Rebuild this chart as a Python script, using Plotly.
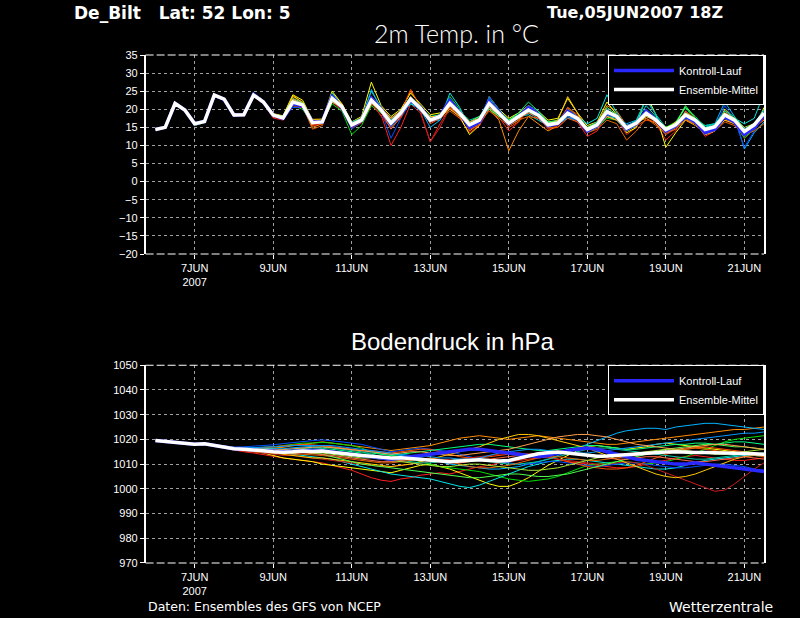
import pandas as pd
import plotly.graph_objects as go

# GFS ensemble run 05JUN2007 18Z, values every 6 hours from 06JUN 00Z
times = pd.date_range("2007-06-06 00:00", periods=63, freq="6h")

tick_days = ["2007-06-07", "2007-06-09", "2007-06-11", "2007-06-13",
             "2007-06-15", "2007-06-17", "2007-06-19", "2007-06-21"]
tick_labels = ["7JUN<br>2007", "9JUN", "11JUN", "13JUN", "15JUN", "17JUN", "19JUN", "21JUN"]

# ---- 2m temperature (C) ----
temp_mean = [14.4, 15.0, 21.6, 19.8, 16.0, 16.6, 23.9, 22.8, 18.4, 18.5, 23.9, 22.0,
             18.4, 17.6, 22.0, 21.2, 16.3, 16.5, 23.0, 20.7, 15.7, 17.0, 22.5, 19.8,
             16.2, 19.0, 22.8, 20.3, 17.0, 18.0, 21.6, 18.9, 15.7, 17.0, 21.6, 18.9,
             16.2, 18.0, 19.8, 18.4, 15.7, 16.2, 18.9, 17.5, 14.4, 15.7, 19.3, 18.0,
             14.8, 16.2, 18.9, 17.0, 14.4, 15.7, 18.4, 17.0, 14.4, 15.2, 18.4, 17.0,
             13.9, 15.7, 18.9]
temp_control = [14.4, 15.0, 21.6, 19.8, 16.0, 16.6, 23.9, 22.7, 18.4, 18.5, 24.1, 22.0,
                18.4, 17.5, 21.5, 21.0, 16.5, 16.5, 23.5, 20.5, 15.5, 17.0, 23.0, 20.0,
                16.0, 19.0, 22.5, 20.5, 17.0, 18.0, 22.5, 19.0, 15.0, 16.5, 22.0, 19.0,
                16.0, 18.0, 20.5, 18.5, 15.5, 16.0, 19.5, 17.5, 14.0, 15.5, 19.0, 18.0,
                14.5, 16.0, 19.5, 17.0, 14.0, 15.5, 18.0, 16.5, 13.5, 14.5, 18.0, 16.5,
                13.0, 15.0, 18.5]
temp_m01 = [14.2, 14.9, 21.5, 19.7, 15.8, 16.5, 23.7, 22.6, 18.0, 18.2, 23.5, 21.5,
            17.6, 17.0, 21.4, 20.8, 15.5, 15.9, 22.0, 19.8, 14.8, 16.2, 21.0, 18.5,
            10.0, 15.0, 21.5, 19.0, 11.0, 16.0, 20.5, 17.5, 13.5, 15.5, 20.0, 17.8,
            14.0, 16.5, 21.0, 19.0, 14.5, 15.0, 18.0, 16.5, 12.5, 14.0, 18.5, 17.5,
            13.0, 15.0, 20.0, 16.0, 11.5, 14.0, 19.0, 16.5, 12.5, 14.0, 17.0, 16.0,
            12.0, 14.5, 17.5]
temp_m02 = [14.5, 15.1, 21.7, 19.9, 16.1, 16.7, 24.0, 22.9, 18.6, 18.6, 24.3, 22.3,
            18.0, 17.2, 23.5, 22.0, 15.0, 16.0, 24.5, 21.5, 15.0, 17.5, 23.5, 20.5,
            17.0, 19.5, 25.0, 21.0, 16.5, 17.5, 22.5, 19.5, 14.0, 16.0, 20.0, 17.0,
            8.5, 14.0, 18.0, 16.0, 14.0, 15.5, 20.5, 18.0, 15.0, 16.0, 21.0, 19.5,
            15.5, 16.5, 17.5, 16.0, 13.0, 15.0, 17.0, 15.5, 13.5, 14.5, 19.5, 17.5,
            14.0, 15.0, 17.0]
temp_m03 = [14.4, 15.0, 21.6, 19.8, 16.0, 16.7, 24.1, 23.0, 18.7, 18.8, 24.4, 22.5,
            18.8, 18.2, 24.0, 22.5, 17.0, 17.0, 25.0, 21.5, 16.5, 18.0, 27.5, 21.0,
            18.0, 20.0, 24.5, 21.5, 18.5, 19.0, 20.5, 18.0, 13.0, 15.5, 23.5, 20.0,
            17.5, 19.0, 21.0, 19.5, 17.0, 17.5, 23.0, 19.0, 15.5, 16.5, 22.0, 18.5,
            13.5, 15.0, 24.0, 18.5, 9.5, 13.5, 17.0, 16.0, 13.0, 14.0, 20.0, 17.5,
            12.5, 14.5, 20.5]
temp_m04 = [14.3, 15.0, 21.5, 19.7, 15.5, 16.3, 23.5, 22.5, 18.2, 18.3, 24.6, 22.0,
            18.5, 17.5, 21.0, 20.0, 16.0, 16.5, 21.5, 19.5, 13.0, 15.5, 21.0, 19.0,
            15.5, 18.5, 22.0, 19.5, 17.5, 18.5, 23.5, 20.0, 16.0, 17.0, 20.5, 18.0,
            16.5, 18.5, 19.0, 18.5, 16.0, 16.5, 20.0, 18.0, 13.5, 15.0, 17.5, 17.0,
            14.0, 16.0, 19.5, 17.5, 15.0, 16.5, 20.5, 17.0, 14.0, 15.0, 18.0, 16.5,
            12.0, 14.5, 19.0]
temp_m05 = [14.4, 15.0, 21.6, 19.8, 16.0, 16.6, 24.0, 22.8, 18.4, 18.4, 24.0, 22.0,
            18.6, 17.8, 22.5, 21.5, 16.5, 16.5, 24.5, 21.0, 16.0, 17.5, 25.0, 20.5,
            16.5, 19.5, 23.0, 20.5, 17.0, 17.0, 24.5, 20.5, 15.0, 16.5, 22.0, 19.0,
            16.0, 18.0, 18.5, 17.0, 15.5, 16.0, 19.0, 18.0, 16.0, 17.5, 24.0, 19.0,
            15.0, 17.0, 21.0, 18.0, 14.0, 15.5, 17.5, 16.5, 15.5, 16.0, 18.5, 17.5,
            16.0, 17.5, 24.5]
temp_m06 = [14.4, 15.0, 21.6, 19.8, 15.9, 16.5, 23.8, 22.6, 18.5, 18.6, 24.0, 22.1,
            18.3, 17.5, 21.8, 21.0, 16.8, 16.8, 22.5, 20.5, 15.5, 17.0, 25.5, 20.0,
            15.0, 18.5, 21.5, 20.0, 15.0, 17.0, 22.0, 19.0, 15.5, 17.5, 23.0, 19.5,
            17.0, 18.5, 20.5, 19.0, 16.5, 16.0, 17.5, 17.0, 14.0, 15.0, 18.5, 17.5,
            16.0, 17.0, 22.5, 18.5, 13.5, 15.0, 18.0, 17.5, 15.0, 16.0, 22.0, 18.0,
            9.0, 13.5, 16.5]
temp_m07 = [14.4, 15.0, 21.6, 19.8, 16.0, 16.6, 23.8, 22.7, 18.3, 18.4, 23.6, 21.8,
            18.2, 17.8, 20.5, 20.5, 16.2, 16.2, 23.5, 21.0, 14.5, 16.5, 23.0, 19.5,
            12.0, 17.5, 22.0, 20.0, 16.5, 17.5, 21.5, 19.0, 15.0, 16.5, 23.5, 20.0,
            16.5, 18.0, 21.0, 19.5, 15.5, 16.0, 18.0, 17.0, 14.0, 15.5, 19.5, 18.5,
            14.5, 16.5, 18.5, 16.5, 14.5, 15.5, 19.0, 17.5, 14.0, 15.0, 21.0, 17.0,
            9.5, 14.0, 18.0]
temp_m08 = [14.3, 14.9, 21.6, 19.8, 16.1, 16.7, 24.0, 22.9, 18.6, 18.7, 24.2, 22.2,
            18.0, 17.3, 22.5, 21.0, 15.8, 16.2, 23.5, 20.5, 16.5, 17.5, 23.5, 20.5,
            17.0, 19.0, 25.5, 20.5, 16.0, 17.5, 22.0, 18.5, 14.5, 15.5, 22.5, 19.0,
            15.0, 16.5, 20.0, 18.0, 15.5, 16.5, 20.5, 18.5, 14.5, 15.5, 19.0, 17.5,
            14.0, 15.5, 17.0, 16.5, 14.0, 15.0, 18.5, 16.5, 14.5, 15.0, 17.5, 16.0,
            14.5, 16.0, 18.5]
temp_m09 = [14.2, 14.8, 21.4, 19.6, 15.7, 16.4, 23.6, 22.4, 18.1, 18.2, 23.8, 21.8,
            18.3, 17.6, 21.0, 20.5, 16.0, 16.0, 22.5, 20.0, 15.0, 16.5, 22.0, 18.0,
            15.0, 17.5, 23.5, 19.5, 11.0, 15.0, 20.5, 18.0, 15.5, 17.0, 21.0, 18.5,
            16.0, 17.5, 19.5, 18.0, 14.5, 15.5, 18.5, 16.5, 14.0, 15.0, 20.0, 18.0,
            15.5, 16.0, 18.0, 16.5, 13.0, 14.5, 19.5, 17.5, 14.0, 14.5, 18.0, 16.5,
            13.0, 14.5, 17.5]
temp_m10 = [14.4, 15.0, 21.6, 19.8, 16.0, 16.6, 23.9, 22.7, 18.4, 18.5, 23.8, 21.9,
            18.5, 17.7, 22.0, 21.3, 16.5, 16.7, 22.0, 20.8, 16.0, 17.5, 22.0, 19.0,
            16.5, 19.0, 21.5, 20.5, 18.0, 18.5, 22.5, 19.0, 16.5, 17.5, 21.0, 19.5,
            17.0, 19.0, 22.0, 19.5, 16.5, 17.0, 19.5, 18.0, 15.0, 16.0, 18.0, 17.5,
            15.5, 16.5, 20.0, 17.5, 14.5, 16.0, 20.5, 18.0, 15.0, 15.5, 17.5, 16.5,
            14.0, 15.5, 18.0]
temp_m11 = [14.4, 15.0, 21.6, 19.8, 16.0, 16.6, 24.0, 22.9, 18.5, 18.5, 24.0, 22.0,
            18.6, 17.9, 23.8, 21.8, 17.2, 17.3, 23.5, 21.5, 15.5, 17.0, 21.5, 19.5,
            17.5, 19.5, 22.5, 20.0, 18.0, 18.0, 20.0, 18.0, 16.0, 16.5, 20.5, 18.5,
            15.5, 17.0, 21.0, 18.5, 16.0, 17.0, 23.5, 19.0, 13.5, 15.0, 18.0, 17.0,
            14.5, 16.0, 19.0, 17.0, 14.5, 16.5, 17.5, 16.0, 13.0, 14.0, 17.0, 16.0,
            13.5, 15.0, 20.0]
temp_m12 = [14.4, 15.0, 21.6, 19.8, 16.0, 16.6, 23.9, 22.8, 18.4, 18.5, 24.1, 22.1,
            18.4, 17.4, 22.2, 21.5, 16.6, 16.8, 23.2, 20.5, 16.5, 17.5, 23.0, 20.5,
            17.0, 19.5, 23.5, 21.0, 17.0, 18.0, 21.0, 19.5, 17.0, 18.0, 21.5, 19.0,
            16.5, 18.5, 19.0, 18.0, 15.0, 16.0, 18.5, 17.5, 15.0, 16.5, 19.0, 18.5,
            15.0, 17.0, 23.0, 18.5, 15.0, 16.0, 19.0, 17.5, 15.5, 16.0, 19.5, 18.0,
            14.5, 16.0, 20.0]
temp_m13 = [14.3, 14.9, 21.5, 19.7, 15.9, 16.5, 23.8, 22.7, 18.2, 18.3, 24.0, 21.9,
            18.2, 17.7, 22.0, 20.8, 14.5, 15.5, 22.5, 20.0, 15.5, 16.5, 21.5, 19.5,
            16.0, 18.0, 22.5, 19.5, 17.5, 17.5, 19.5, 17.5, 16.0, 16.5, 19.5, 17.5,
            15.5, 17.0, 18.0, 17.5, 15.0, 15.0, 17.5, 16.5, 13.5, 14.5, 17.0, 16.0,
            11.5, 14.0, 17.5, 15.5, 13.5, 14.5, 17.0, 16.0, 13.5, 14.0, 16.5, 15.5,
            13.0, 14.0, 16.0]
temp_m14 = [14.4, 15.0, 21.6, 19.8, 16.1, 16.6, 24.0, 22.8, 18.4, 18.6, 24.0, 22.2,
            18.7, 18.0, 23.0, 21.8, 16.5, 17.0, 23.5, 21.0, 16.0, 17.5, 22.5, 20.0,
            16.0, 19.0, 23.0, 20.5, 17.5, 18.0, 22.0, 19.0, 16.5, 18.0, 20.0, 18.0,
            17.0, 18.5, 20.5, 19.0, 16.5, 16.5, 19.0, 17.5, 14.5, 16.0, 20.5, 18.5,
            14.0, 15.5, 18.5, 16.5, 15.0, 16.0, 21.0, 17.5, 14.5, 15.5, 19.0, 17.5,
            14.0, 15.5, 19.5]
temp_m15 = [14.4, 15.0, 21.6, 19.8, 16.0, 16.6, 23.9, 22.8, 18.5, 18.6, 24.2, 22.1,
            18.1, 17.4, 21.5, 20.9, 16.0, 16.3, 22.8, 20.2, 15.2, 16.8, 22.8, 19.2,
            14.5, 18.0, 23.5, 20.0, 16.5, 17.5, 21.0, 18.5, 15.0, 16.5, 22.5, 19.5,
            16.0, 17.5, 19.0, 17.5, 15.0, 16.5, 19.5, 17.0, 14.5, 16.0, 19.5, 18.0,
            15.5, 16.5, 18.0, 17.0, 14.0, 15.5, 19.5, 17.0, 14.5, 15.5, 19.0, 17.0,
            13.5, 15.5, 19.0]
temp_m16 = [14.4, 15.0, 21.6, 19.8, 16.0, 16.6, 24.0, 22.8, 18.4, 18.4, 23.7, 21.8,
            18.4, 17.7, 22.8, 21.5, 16.2, 16.5, 23.0, 21.0, 15.5, 17.0, 22.0, 20.0,
            16.5, 19.5, 22.0, 19.5, 17.0, 18.5, 21.5, 18.5, 15.5, 16.5, 20.5, 18.5,
            16.5, 18.0, 20.0, 18.5, 16.0, 16.0, 18.0, 17.0, 14.5, 16.0, 20.0, 18.0,
            15.5, 16.5, 19.5, 17.5, 14.5, 15.0, 18.0, 17.0, 14.5, 15.5, 17.5, 16.5,
            14.5, 16.0, 19.5]
temp_m17 = [14.4, 15.0, 21.6, 19.8, 16.0, 16.6, 23.9, 22.8, 18.4, 18.5, 24.0, 22.0,
            18.2, 17.5, 22.5, 21.0, 16.0, 16.5, 22.5, 20.5, 16.0, 17.0, 22.0, 20.0,
            16.5, 18.5, 22.5, 20.0, 17.0, 18.0, 21.5, 19.0, 16.0, 17.0, 21.0, 19.0,
            16.0, 17.5, 19.5, 18.5, 16.0, 16.5, 19.0, 17.5, 15.0, 16.0, 19.0, 18.0,
            15.0, 16.0, 18.0, 17.0, 15.0, 16.0, 19.0, 17.5, 14.5, 15.5, 18.5, 17.5,
            15.0, 16.0, 18.0]
temp_m18 = [14.4, 15.0, 21.6, 19.8, 16.0, 16.6, 23.8, 22.7, 18.3, 18.4, 23.8, 22.0,
            18.5, 17.8, 22.8, 21.5, 16.8, 16.8, 22.0, 20.5, 15.5, 17.0, 23.0, 20.5,
            17.5, 19.5, 23.0, 21.0, 17.5, 18.5, 22.5, 19.5, 16.5, 17.5, 20.5, 18.5,
            16.5, 18.0, 20.0, 18.5, 15.5, 16.5, 19.5, 18.0, 14.0, 15.5, 18.0, 17.0,
            14.5, 16.0, 19.0, 17.0, 14.5, 16.0, 18.0, 16.5, 14.0, 15.0, 19.0, 17.0,
            13.5, 15.0, 18.5]

# ---- surface pressure (hPa) ----
pres_mean = [1019.6, 1019.2, 1018.8, 1018.3, 1018.0, 1018.2, 1017.6, 1017.0,
             1016.2, 1016.0, 1015.8, 1015.4, 1015.0, 1014.8, 1015.0, 1015.3,
             1015.1, 1015.3, 1014.8, 1014.3, 1013.9, 1013.5, 1013.2, 1012.8,
             1012.5, 1012.6, 1012.3, 1011.8, 1011.5, 1011.4, 1011.0, 1011.3,
             1011.6, 1011.8, 1011.5, 1011.3, 1011.5, 1012.4, 1013.3, 1014.2,
             1014.6, 1014.9, 1014.5, 1014.0, 1013.4, 1013.2, 1013.3, 1013.6,
             1014.0, 1014.3, 1014.5, 1014.6, 1014.9, 1015.0, 1014.7, 1014.7,
             1014.7, 1014.6, 1014.8, 1014.6, 1014.4, 1014.2, 1014.0]
pres_control = [1019.6, 1019.2, 1018.8, 1018.3, 1018.0, 1018.2, 1017.6, 1017.0,
                1016.2, 1016.0, 1015.8, 1015.5, 1015.2, 1015.0, 1015.2, 1015.5,
                1015.5, 1015.5, 1015.0, 1014.5, 1014.0, 1013.5, 1013.0, 1012.5,
                1012.0, 1012.5, 1013.0, 1013.5, 1014.0, 1014.5, 1015.0, 1015.5,
                1016.0, 1016.0, 1015.5, 1015.0, 1014.5, 1014.0, 1013.5, 1013.0,
                1013.5, 1014.5, 1015.5, 1016.0, 1016.5, 1016.0, 1015.0, 1014.0,
                1013.0, 1012.0, 1011.5, 1011.0, 1010.5, 1010.0, 1010.0, 1010.5,
                1010.0, 1009.5, 1009.0, 1008.5, 1008.0, 1007.5, 1007.0]
pres_m01 = [1019.5, 1019.0, 1018.6, 1018.1, 1017.8, 1017.9, 1017.2, 1016.5,
            1015.5, 1015.0, 1014.5, 1013.8, 1013.0, 1012.5, 1012.0, 1011.5,
            1011.0, 1010.5, 1009.5, 1008.5, 1007.5, 1006.0, 1004.5, 1003.5,
            1003.0, 1004.0, 1004.5, 1005.5, 1006.0, 1006.5, 1006.0, 1007.0,
            1008.0, 1009.0, 1009.5, 1010.5, 1011.0, 1011.5, 1012.0, 1012.5,
            1013.0, 1012.0, 1011.0, 1010.5, 1010.0, 1009.5, 1009.0, 1008.5,
            1008.5, 1009.0, 1010.0, 1011.0, 1011.5, 1012.5, 1013.0, 1013.5,
            1013.0, 1012.5, 1012.0, 1011.5, 1011.5, 1012.0, 1012.5]
pres_m02 = [1019.7, 1019.3, 1019.0, 1018.5, 1018.2, 1018.4, 1017.9, 1017.4,
            1016.8, 1016.7, 1016.6, 1016.5, 1016.5, 1016.8, 1017.5, 1018.0,
            1018.5, 1019.0, 1018.5, 1018.0, 1017.5, 1017.0, 1016.5, 1016.0,
            1015.5, 1016.0, 1016.5, 1017.0, 1017.5, 1018.5, 1019.5, 1020.5,
            1021.0, 1021.5, 1021.0, 1020.5, 1020.0, 1020.5, 1021.0, 1021.5,
            1021.0, 1020.5, 1020.0, 1019.5, 1019.0, 1018.5, 1018.0, 1018.0,
            1018.5, 1019.0, 1019.5, 1020.0, 1020.5, 1021.0, 1021.5, 1022.0,
            1022.5, 1023.0, 1023.5, 1024.0, 1024.0, 1024.5, 1025.0]
pres_m03 = [1019.6, 1019.2, 1018.8, 1018.3, 1018.0, 1018.1, 1017.5, 1016.8,
            1016.0, 1015.5, 1015.0, 1014.5, 1013.5, 1012.5, 1012.0, 1011.5,
            1011.0, 1010.0, 1009.5, 1009.0, 1008.5, 1008.0, 1007.5, 1007.0,
            1006.5, 1007.5, 1008.5, 1009.5, 1010.0, 1009.0, 1008.0, 1006.5,
            1005.0, 1003.5, 1002.0, 1001.0, 1001.0, 1002.5, 1004.5, 1007.0,
            1009.5, 1011.5, 1013.5, 1015.5, 1017.0, 1017.5, 1017.0, 1016.5,
            1016.0, 1016.5, 1017.0, 1018.0, 1018.5, 1018.0, 1017.5, 1017.0,
            1016.5, 1016.0, 1015.5, 1015.0, 1014.5, 1014.0, 1013.5]
pres_m04 = [1019.6, 1019.2, 1018.7, 1018.2, 1017.9, 1018.1, 1017.6, 1017.1,
            1016.5, 1016.4, 1016.5, 1016.8, 1017.0, 1017.5, 1018.0, 1018.5,
            1018.5, 1018.8, 1018.5, 1018.0, 1017.5, 1016.5, 1015.0, 1014.0,
            1013.5, 1013.0, 1012.0, 1011.0, 1010.0, 1009.0, 1008.5, 1008.0,
            1007.5, 1007.0, 1006.0, 1005.0, 1004.0, 1003.5, 1003.0, 1003.5,
            1004.0, 1005.0, 1006.5, 1008.0, 1009.5, 1010.0, 1010.5, 1011.0,
            1011.0, 1010.5, 1010.0, 1010.5, 1011.0, 1012.0, 1013.0, 1014.5,
            1016.0, 1017.5, 1019.0, 1020.0, 1020.5, 1021.0, 1021.5]
pres_m05 = [1019.6, 1019.2, 1018.8, 1018.3, 1018.0, 1018.2, 1017.7, 1017.2,
            1016.4, 1016.2, 1016.0, 1015.5, 1015.0, 1014.5, 1014.0, 1013.5,
            1013.0, 1012.5, 1012.0, 1011.0, 1010.0, 1009.0, 1008.0, 1007.0,
            1006.0, 1005.5, 1005.0, 1004.5, 1004.0, 1003.0, 1002.0, 1001.0,
            1000.5, 1001.5, 1003.0, 1004.5, 1006.0, 1007.5, 1009.0, 1010.0,
            1011.0, 1011.5, 1012.0, 1012.0, 1011.5, 1011.0, 1010.5, 1010.0,
            1009.5, 1009.0, 1008.5, 1008.0, 1008.0, 1008.5, 1009.5, 1010.5,
            1011.5, 1012.0, 1012.5, 1013.0, 1013.5, 1014.0, 1014.5]
pres_m06 = [1019.6, 1019.3, 1018.9, 1018.4, 1018.1, 1018.3, 1017.8, 1017.3,
            1016.6, 1016.5, 1016.4, 1016.3, 1016.0, 1016.2, 1016.6, 1017.0,
            1017.2, 1017.5, 1017.0, 1016.5, 1016.0, 1015.5, 1015.0, 1014.5,
            1014.0, 1013.5, 1013.0, 1012.5, 1012.0, 1011.0, 1010.0, 1009.5,
            1009.0, 1008.5, 1008.0, 1008.0, 1008.5, 1009.0, 1010.0, 1011.0,
            1012.0, 1013.5, 1015.0, 1016.5, 1018.0, 1019.5, 1021.0, 1022.5,
            1023.5, 1024.0, 1024.5, 1024.5, 1024.0, 1025.0, 1025.5, 1026.0,
            1026.5, 1026.5, 1026.0, 1025.5, 1025.0, 1024.5, 1024.0]
pres_m07 = [1019.7, 1019.3, 1018.9, 1018.4, 1018.1, 1018.3, 1017.8, 1017.3,
            1016.9, 1017.0, 1017.2, 1017.5, 1017.8, 1018.3, 1018.8, 1019.2,
            1019.5, 1019.8, 1019.5, 1019.0, 1018.5, 1018.0, 1017.0, 1016.0,
            1015.0, 1015.5, 1016.0, 1016.5, 1016.0, 1015.5, 1015.0, 1014.0,
            1013.0, 1012.0, 1011.5, 1011.0, 1010.5, 1010.0, 1010.0, 1010.5,
            1011.0, 1011.0, 1010.5, 1010.0, 1009.5, 1009.0, 1009.5, 1010.0,
            1010.5, 1010.5, 1010.0, 1009.5, 1009.0, 1008.5, 1008.5, 1009.0,
            1009.5, 1010.0, 1010.0, 1009.5, 1009.0, 1008.0, 1007.5]
pres_m08 = [1019.5, 1019.1, 1018.7, 1018.2, 1017.9, 1018.0, 1017.4, 1016.8,
            1016.2, 1016.2, 1016.4, 1016.8, 1017.0, 1017.4, 1017.8, 1018.0,
            1017.8, 1017.5, 1017.0, 1016.5, 1016.0, 1015.5, 1015.5, 1015.0,
            1014.5, 1015.0, 1015.5, 1016.0, 1016.0, 1015.0, 1014.0, 1013.0,
            1012.5, 1012.5, 1013.0, 1013.5, 1014.0, 1014.5, 1014.0, 1013.5,
            1013.0, 1012.0, 1011.0, 1010.0, 1009.0, 1008.5, 1008.0, 1008.0,
            1008.5, 1009.5, 1011.0, 1012.5, 1014.0, 1015.0, 1016.0, 1016.5,
            1017.0, 1016.5, 1016.0, 1015.5, 1015.0, 1014.5, 1014.0]
pres_m09 = [1019.6, 1019.2, 1018.8, 1018.3, 1018.0, 1018.2, 1017.6, 1017.0,
            1016.0, 1015.5, 1015.0, 1014.5, 1014.0, 1013.5, 1013.5, 1013.0,
            1012.5, 1012.0, 1011.5, 1011.0, 1010.5, 1010.0, 1009.5, 1009.0,
            1009.0, 1009.5, 1010.0, 1010.5, 1011.0, 1011.5, 1012.0, 1012.0,
            1012.5, 1013.0, 1013.5, 1014.0, 1014.5, 1014.0, 1013.5, 1013.0,
            1012.5, 1012.0, 1011.5, 1011.0, 1010.5, 1010.0, 1010.0, 1010.5,
            1011.0, 1010.5, 1009.5, 1008.0, 1006.5, 1005.0, 1003.5, 1002.0,
            1000.5, 999.0, 999.5, 1002.0, 1005.0, 1008.0, 1010.5]
pres_m10 = [1019.6, 1019.2, 1018.8, 1018.3, 1018.0, 1018.2, 1017.6, 1017.0,
            1016.3, 1016.1, 1015.9, 1015.6, 1015.4, 1015.3, 1015.6, 1016.0,
            1016.0, 1016.3, 1016.0, 1015.5, 1015.0, 1014.5, 1014.5, 1014.0,
            1013.5, 1014.0, 1014.5, 1015.0, 1015.5, 1016.0, 1016.5, 1017.0,
            1017.5, 1018.0, 1018.0, 1017.5, 1017.0, 1016.5, 1016.0, 1015.5,
            1015.5, 1016.0, 1016.5, 1017.0, 1017.5, 1017.5, 1017.0, 1016.5,
            1016.0, 1016.0, 1016.5, 1017.0, 1017.5, 1018.0, 1018.0, 1018.5,
            1018.5, 1018.0, 1018.5, 1019.0, 1019.0, 1018.5, 1018.0]
pres_m11 = [1019.6, 1019.2, 1018.8, 1018.3, 1018.0, 1018.2, 1017.6, 1017.0,
            1016.1, 1015.8, 1015.5, 1015.0, 1014.5, 1014.0, 1013.5, 1013.0,
            1012.5, 1012.5, 1012.0, 1011.5, 1011.0, 1010.5, 1010.0, 1009.5,
            1009.0, 1009.5, 1010.0, 1011.0, 1012.0, 1013.0, 1014.0, 1015.0,
            1016.0, 1017.0, 1018.5, 1020.0, 1021.0, 1022.0, 1022.0, 1021.5,
            1020.5, 1019.5, 1018.5, 1017.5, 1016.5, 1015.0, 1013.5, 1012.0,
            1010.5, 1009.0, 1007.5, 1006.0, 1005.0, 1004.5, 1005.0, 1006.0,
            1007.5, 1009.0, 1010.5, 1012.0, 1013.0, 1013.5, 1014.0]
pres_m12 = [1019.6, 1019.2, 1018.8, 1018.3, 1018.0, 1018.2, 1017.6, 1017.1,
            1016.3, 1016.2, 1016.0, 1015.7, 1015.5, 1015.6, 1016.0, 1016.3,
            1016.5, 1016.8, 1016.5, 1016.0, 1015.5, 1015.0, 1014.0, 1013.0,
            1012.0, 1011.5, 1011.0, 1010.5, 1010.5, 1011.0, 1011.5, 1012.0,
            1012.0, 1011.5, 1011.0, 1010.5, 1010.0, 1010.0, 1010.5, 1011.0,
            1012.0, 1013.0, 1014.0, 1015.0, 1016.0, 1016.5, 1016.5, 1016.0,
            1015.5, 1015.0, 1014.5, 1014.0, 1013.5, 1013.0, 1012.5, 1012.0,
            1012.0, 1012.5, 1013.0, 1013.5, 1014.0, 1013.5, 1013.0]
pres_m13 = [1019.5, 1019.1, 1018.7, 1018.2, 1017.8, 1017.9, 1017.3, 1016.7,
            1015.8, 1015.4, 1015.0, 1014.7, 1014.5, 1014.3, 1014.0, 1014.0,
            1013.8, 1013.5, 1013.0, 1012.5, 1012.0, 1011.5, 1011.0, 1010.5,
            1010.5, 1011.0, 1011.5, 1012.0, 1012.5, 1012.0, 1011.0, 1010.0,
            1009.0, 1008.5, 1008.5, 1009.0, 1009.5, 1010.5, 1011.5, 1012.5,
            1013.0, 1013.0, 1012.5, 1012.0, 1011.5, 1011.5, 1012.0, 1012.5,
            1013.0, 1013.5, 1014.0, 1014.5, 1015.0, 1015.5, 1016.0, 1016.5,
            1016.0, 1015.5, 1015.0, 1014.5, 1014.0, 1013.5, 1013.0]
pres_m14 = [1019.6, 1019.2, 1018.8, 1018.3, 1018.0, 1018.2, 1017.6, 1017.0,
            1016.4, 1016.3, 1016.3, 1016.2, 1016.0, 1015.8, 1015.5, 1015.0,
            1014.5, 1014.0, 1013.0, 1012.0, 1011.0, 1010.0, 1009.5, 1009.0,
            1008.5, 1008.0, 1007.5, 1007.0, 1006.5, 1006.0, 1005.5, 1005.0,
            1004.5, 1004.5, 1005.0, 1005.5, 1006.0, 1006.0, 1005.5, 1005.0,
            1005.0, 1005.5, 1006.0, 1007.0, 1008.0, 1009.0, 1010.0, 1011.0,
            1012.0, 1013.0, 1014.0, 1015.0, 1016.0, 1016.5, 1017.0, 1017.5,
            1018.0, 1018.0, 1017.5, 1017.0, 1017.0, 1016.5, 1016.0]
pres_m15 = [1019.6, 1019.2, 1018.8, 1018.3, 1018.0, 1018.1, 1017.5, 1016.9,
            1016.0, 1015.7, 1015.4, 1015.0, 1014.6, 1014.3, 1014.3, 1014.5,
            1014.3, 1014.0, 1013.5, 1013.0, 1012.5, 1012.0, 1011.5, 1011.0,
            1011.0, 1011.5, 1012.0, 1012.0, 1011.5, 1011.0, 1010.5, 1010.5,
            1011.0, 1011.5, 1012.0, 1012.5, 1013.0, 1013.5, 1014.0, 1014.5,
            1015.0, 1015.0, 1014.5, 1014.0, 1013.5, 1013.0, 1012.5, 1012.0,
            1012.0, 1012.5, 1013.0, 1013.0, 1012.5, 1012.0, 1011.5, 1011.0,
            1011.0, 1011.5, 1012.0, 1012.5, 1013.0, 1012.5, 1012.0]
pres_m16 = [1019.6, 1019.2, 1018.8, 1018.3, 1018.0, 1018.2, 1017.7, 1017.1,
            1016.5, 1016.5, 1016.6, 1016.8, 1017.0, 1017.2, 1017.5, 1017.5,
            1017.5, 1017.8, 1017.5, 1017.0, 1016.5, 1016.0, 1015.5, 1015.0,
            1014.5, 1014.0, 1013.5, 1013.5, 1013.0, 1012.5, 1012.5, 1012.0,
            1012.0, 1012.5, 1013.5, 1014.5, 1015.0, 1015.5, 1016.0, 1016.0,
            1015.5, 1015.0, 1014.5, 1014.5, 1014.5, 1015.0, 1015.5, 1016.0,
            1016.5, 1017.0, 1017.5, 1018.0, 1018.5, 1019.0, 1019.5, 1020.0,
            1020.5, 1021.0, 1021.5, 1022.0, 1022.5, 1022.5, 1023.0]
pres_m17 = [1019.6, 1019.2, 1018.8, 1018.3, 1018.0, 1018.2, 1017.6, 1017.0,
            1016.2, 1015.9, 1015.6, 1015.2, 1014.8, 1014.5, 1014.5, 1014.8,
            1014.5, 1014.5, 1014.0, 1013.5, 1013.0, 1012.5, 1012.5, 1012.0,
            1011.5, 1011.0, 1010.5, 1010.0, 1009.5, 1009.0, 1009.0, 1009.5,
            1010.0, 1010.0, 1009.5, 1009.0, 1008.5, 1008.0, 1007.5, 1007.5,
            1008.0, 1008.5, 1009.5, 1010.5, 1011.5, 1012.5, 1013.0, 1013.5,
            1014.0, 1014.5, 1015.0, 1015.5, 1016.0, 1016.0, 1015.5, 1015.0,
            1014.5, 1014.0, 1014.0, 1014.5, 1015.0, 1015.5, 1016.0]
pres_m18 = [1019.6, 1019.2, 1018.8, 1018.3, 1018.0, 1018.2, 1017.6, 1017.0,
            1016.4, 1016.3, 1016.1, 1015.9, 1015.7, 1015.8, 1016.2, 1016.6,
            1016.8, 1017.0, 1016.8, 1016.3, 1015.8, 1015.5, 1015.0, 1014.5,
            1014.0, 1014.5, 1015.0, 1015.0, 1014.5, 1014.0, 1013.5, 1013.5,
            1014.0, 1014.5, 1015.0, 1015.5, 1016.0, 1017.0, 1018.0, 1019.0,
            1020.0, 1021.0, 1021.5, 1022.0, 1022.0, 1021.5, 1021.0, 1020.0,
            1019.0, 1018.0, 1017.5, 1017.0, 1016.5, 1016.0, 1016.5, 1017.0,
            1017.5, 1018.0, 1018.0, 1017.5, 1017.0, 1016.5, 1016.0]

member_colors = ["#ff1e1e", "#ff8c00", "#ffff00", "#00dc00", "#00e6e6", "#00b4ff", "#0050ff",
                 "#ff5000", "#c81e1e", "#00ff80", "#ffc800", "#00c8a0", "#e66400", "#50ff50",
                 "#ff6a4b", "#0096ff", "#a0e632", "#ffa050"]

temp_members = [temp_m01, temp_m02, temp_m03, temp_m04, temp_m05, temp_m06, temp_m07,
                temp_m08, temp_m09, temp_m10, temp_m11, temp_m12, temp_m13, temp_m14,
                temp_m15, temp_m16, temp_m17, temp_m18]
pres_members = [pres_m01, pres_m02, pres_m03, pres_m04, pres_m05, pres_m06, pres_m07,
                pres_m08, pres_m09, pres_m10, pres_m11, pres_m12, pres_m13, pres_m14,
                pres_m15, pres_m16, pres_m17, pres_m18]

tick_font = dict(family="Liberation Sans", size=11, color="white")
grid_col = "#a0a0a0"


def add_panel(fig, members, control, mean, xa, ya, legend):
    for vals, col in zip(members, member_colors):
        fig.add_trace(go.Scatter(x=times, y=vals, mode="lines", line=dict(color=col, width=1),
                                 xaxis=xa, yaxis=ya, showlegend=False, hoverinfo="skip"))
    fig.add_trace(go.Scatter(x=times, y=control, mode="lines", name="Kontroll-Lauf",
                             line=dict(color="#2828ff", width=3.5), xaxis=xa, yaxis=ya, legend=legend))
    fig.add_trace(go.Scatter(x=times, y=mean, mode="lines", name="Ensemble-Mittel",
                             line=dict(color="white", width=3.5), xaxis=xa, yaxis=ya, legend=legend))


def x_axis(domain, anchor):
    return dict(domain=domain, anchor=anchor, type="date",
                range=["2007-06-05 18:00", "2007-06-21 12:00"],
                tickmode="array", tickvals=tick_days, ticktext=tick_labels,
                showgrid=True, gridcolor=grid_col, griddash="dot", gridwidth=1,
                ticks="outside", ticklen=4, tickcolor="white", tickfont=tick_font,
                showline=False, zeroline=False, automargin=False)


def y_axis(domain, anchor, rng, step):
    return dict(domain=domain, anchor=anchor, range=rng, dtick=step, tick0=rng[0],
                showgrid=True, gridcolor=grid_col, griddash="dot", gridwidth=1,
                showline=True, linecolor="white", linewidth=1.5, mirror=True,
                ticks="outside", ticklen=4, tickcolor="white", tickfont=tick_font,
                zeroline=False, automargin=False)


fig = go.Figure()
add_panel(fig, temp_members, temp_control, temp_mean, "x", "y", "legend")
add_panel(fig, pres_members, pres_control, pres_mean, "x2", "y2", "legend2")

legend_style = dict(x=0.955, xanchor="right", yanchor="top", bgcolor="black",
                    bordercolor="white", borderwidth=1, itemwidth=60,
                    font=dict(family="Liberation Sans", size=11, color="white"))

fig.update_layout(
    width=800, height=618,
    margin=dict(l=0, r=0, t=0, b=0),
    paper_bgcolor="black", plot_bgcolor="black",
    xaxis=x_axis([0.182, 0.955], "y"),
    yaxis=y_axis([0.589, 0.911], "x", [-20, 35], 5),
    xaxis2=x_axis([0.182, 0.955], "y2"),
    yaxis2=y_axis([0.089, 0.409], "x2", [970, 1050], 10),
    legend=dict(y=0.911, **legend_style),
    legend2=dict(y=0.409, **legend_style),
)

# dashed top and bottom frame lines, as in the original
for xr, yr in [("x domain", "y domain"), ("x2 domain", "y2 domain")]:
    for yy in [0, 1]:
        fig.add_shape(type="line", xref=xr, yref=yr, x0=0, x1=1, y0=yy, y1=yy,
                      line=dict(color="white", width=1.2, dash="8px,3px"))

head_font = dict(family="DejaVu Sans", size=17, color="white", weight="bold")
fig.add_annotation(text="De_Bilt\u00a0\u00a0\u00a0Lat:\u00a052\u00a0Lon:\u00a05", xref="paper", yref="paper",
                   x=0.09, y=0.979, xanchor="left", yanchor="middle", showarrow=False, font=head_font)
fig.add_annotation(text="Tue,05JUN2007\u00a018Z", xref="paper", yref="paper",
                   x=0.681, y=0.979, xanchor="left", yanchor="middle", showarrow=False,
                   font=dict(head_font, size=16))
fig.add_annotation(text="2m Temp. in °C", xref="paper", yref="paper",
                   x=0.571, y=0.947, xanchor="center", yanchor="middle", showarrow=False,
                   font=dict(family="Lato", size=25, color="white", weight=300))
fig.add_annotation(text="Bodendruck in hPa", xref="paper", yref="paper",
                   x=0.566, y=0.447, xanchor="center", yanchor="middle", showarrow=False,
                   font=dict(family="Liberation Sans", size=24, color="white"))
fig.add_annotation(text="Daten: Ensembles des GFS von NCEP", xref="paper", yref="paper",
                   x=0.182, y=0.018, xanchor="left", yanchor="middle", showarrow=False,
                   font=dict(family="DejaVu Sans", size=12.5, color="white"))
fig.add_annotation(text="Wetterzentrale", xref="paper", yref="paper",
                   x=0.969, y=0.018, xanchor="right", yanchor="middle", showarrow=False,
                   font=dict(family="DejaVu Sans", size=14, color="white"))

# page body without margin so the 800x618 figure fills the window
fig.write_html("out.html", config={"displayModeBar": False},
               post_script="document.body.style.margin='0';document.body.style.background='black';")
